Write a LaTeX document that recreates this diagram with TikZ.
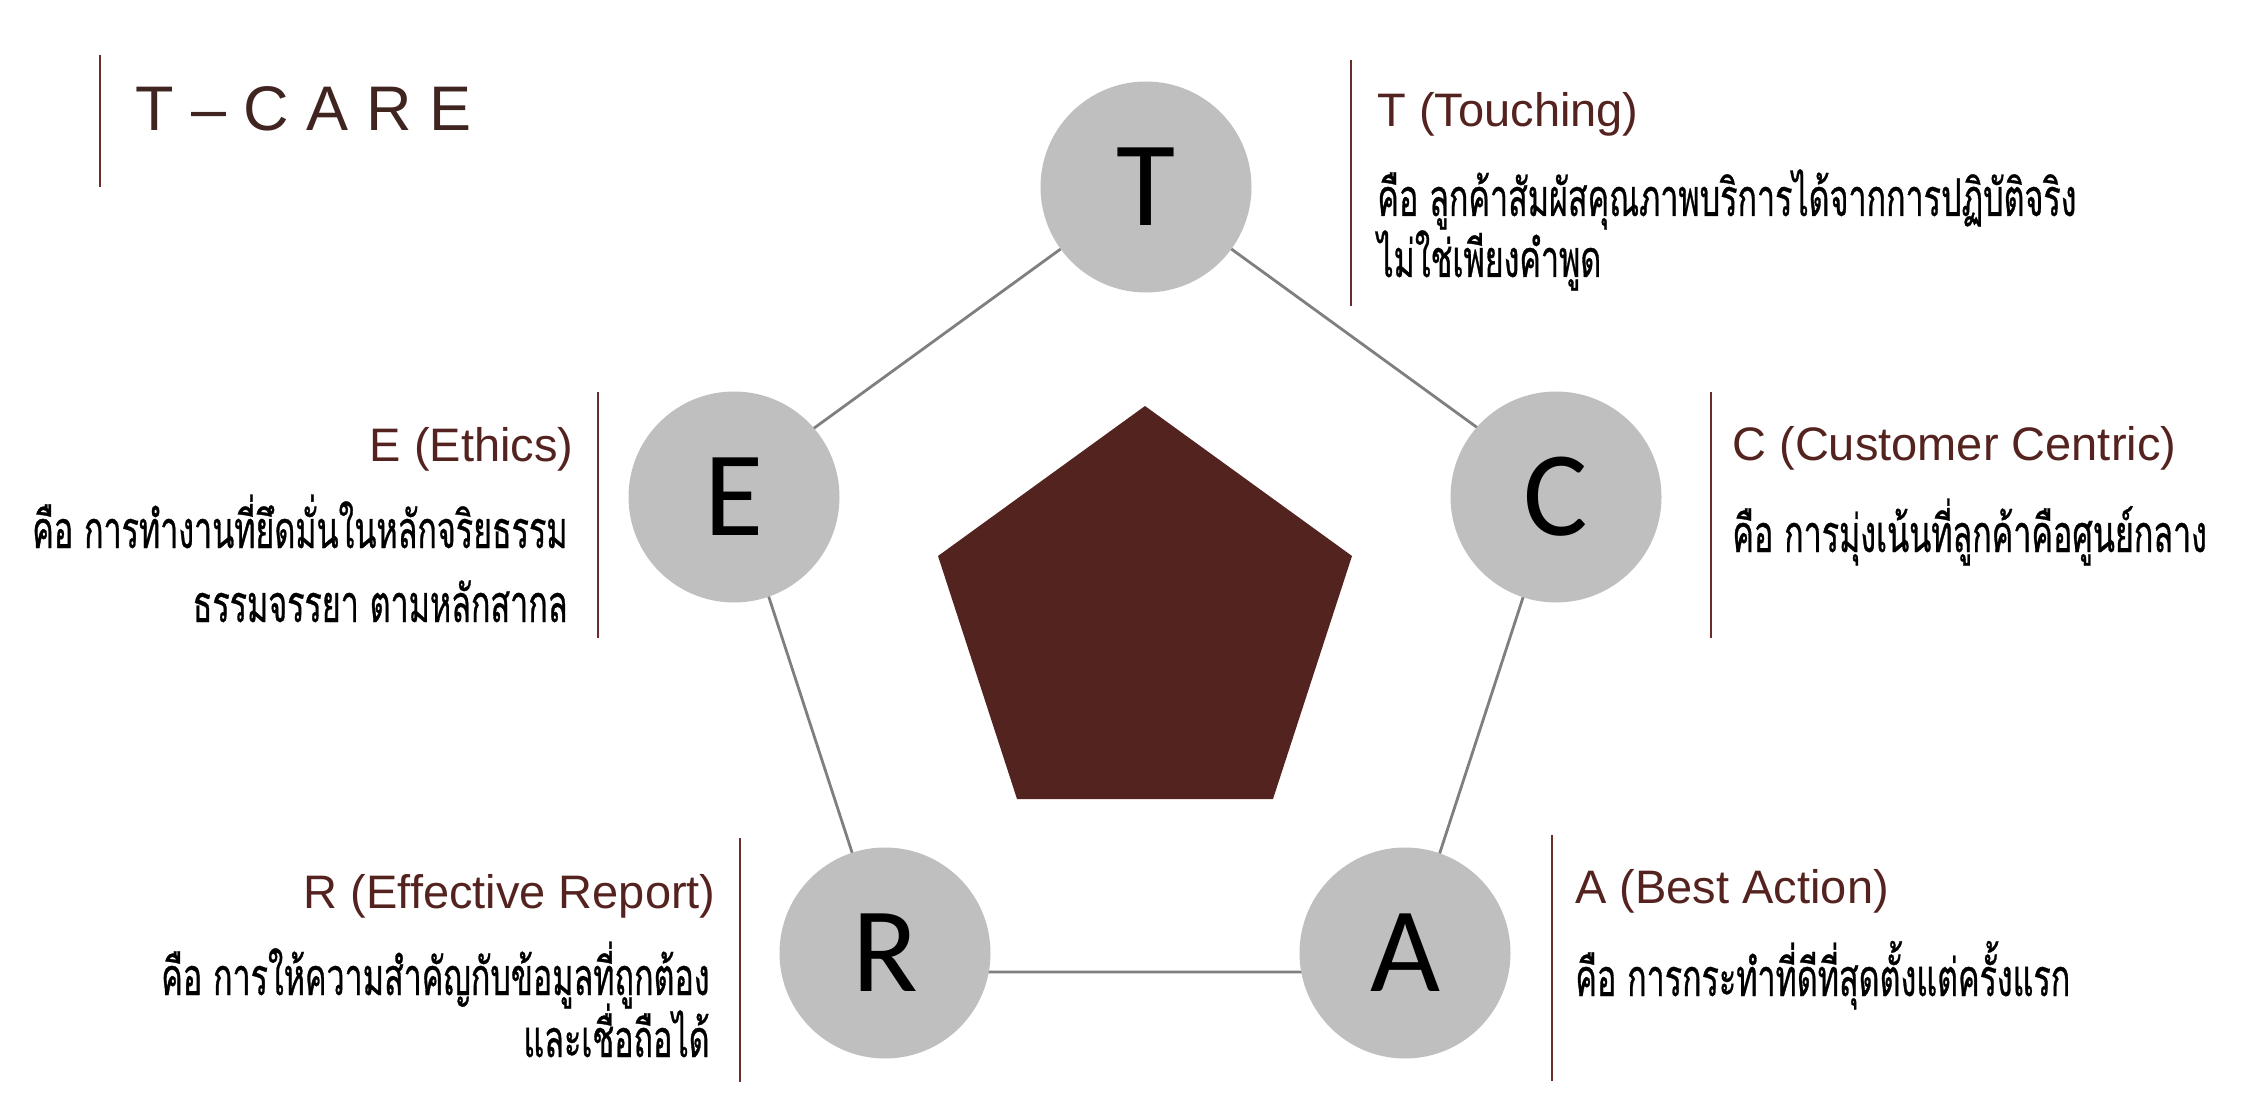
\documentclass[tikz,border=0pt]{standalone}
\usepackage{fontspec}
\setmainfont{Liberation Sans}
\newfontfamily\thaifont[Script=Thai,FakeStretch=0.62,FakeBold=0.6]{Loma}
\newfontfamily\circfont{Carlito}
\definecolor{penta}{HTML}{52231F}
\definecolor{headc}{HTML}{54231F}
\definecolor{titlec}{HTML}{402420}
\definecolor{barc}{HTML}{6B2D28}
\definecolor{circc}{HTML}{BFBFBF}
\definecolor{edgec}{HTML}{7F7F7F}
\tikzset{
  letter/.style={circle,fill=circc,minimum size=105.5pt,inner sep=0pt,
    font=\circfont\fontsize{60.5}{60}\selectfont,text=black},
  edge/.style={draw=edgec,line width=1.4pt},
  bar/.style={draw=barc,line width=1.3pt},
  head/.style={inner sep=0pt,text=headc,font=\fontsize{23.5}{28}\selectfont},
  thai/.style={inner sep=0pt,text=black,font=\thaifont\fontsize{26}{30}\selectfont},
}
\begin{document}
\begin{tikzpicture}[x=0.5pt,y=-0.5pt]
\useasboundingbox (0,0) rectangle (2254,1118);
% title
\coordinate (tb1) at (100,55); \coordinate (tb2) at (100,187);
\draw[bar] (tb1) -- (tb2);
\node[inner sep=0pt,anchor=base west,text=titlec,font=\fontsize{31.5}{36}\selectfont] (title) at (135,131) {T – C A R E};
% outer pentagon edges
\coordinate (vT) at (1146,187);
\coordinate (vC) at (1559,487);
\coordinate (vA) at (1401,972);
\coordinate (vR) at (891,972);
\coordinate (vE) at (733,487);
\draw[edge] (vT) -- (vC) -- (vA) -- (vR) -- (vE) -- cycle;
% inner pentagon
\fill[penta] (1145,406) -- (1352,556) -- (1273,799) -- (1017,799) -- (938,556) -- cycle;
% circles
\node[letter] (T) at (1146,187) {T};
\node[letter] (E) at (734,497) {E};
\node[letter] (C) at (1556,497) {C};
\node[letter] (R) at (885,953) {R};
\node[letter] (A) at (1405,953) {A};
% bars
\coordinate (bT1) at (1351,60);  \coordinate (bT2) at (1351,306);
\coordinate (bE1) at (598,392);  \coordinate (bE2) at (598,638);
\coordinate (bC1) at (1711,392); \coordinate (bC2) at (1711,638);
\coordinate (bR1) at (740,838);  \coordinate (bR2) at (740,1082);
\coordinate (bA1) at (1552,835); \coordinate (bA2) at (1552,1081);
\draw[bar] (bT1) -- (bT2);
\draw[bar] (bE1) -- (bE2);
\draw[bar] (bC1) -- (bC2);
\draw[bar] (bR1) -- (bR2);
\draw[bar] (bA1) -- (bA2);
% T text
\node[head,anchor=base west] (Th) at (1377,127) {T (Touching)};
\node[thai,anchor=base west] (Tt1) at (1377,216) {คือ ลูกค้าสัมผัสคุณภาพบริการได้จากการปฏิบัติจริง};
\node[thai,anchor=base west] (Tt2) at (1377,277) {ไม่ใช่เพียงคำพูด};
% E text
\node[head,anchor=base east] (Eh) at (574,461) {E (Ethics)};
\node[thai,anchor=base east] (Et1) at (568,548) {คือ การทำงานที่ยึดมั่นในหลักจริยธรรม};
\node[thai,anchor=base east] (Et2) at (568,622) {ธรรมจรรยา ตามหลักสากล};
% C text
\node[head,anchor=base west] (Ch) at (1732,460) {C (Customer Centric)};
\node[thai,anchor=base west] (Ct1) at (1732,552) {คือ การมุ่งเน้นที่ลูกค้าคือศูนย์กลาง};
% R text
\node[head,anchor=base east] (Rh) at (716,908) {R (Effective Report)};
\node[thai,anchor=base east] (Rt1) at (710,995) {คือ การให้ความสำคัญกับข้อมูลที่ถูกต้อง};
\node[thai,anchor=base east] (Rt2) at (710,1057) {และเชื่อถือได้};
% A text
\node[head,anchor=base west] (Ah) at (1575,903) {A (Best Action)};
\node[thai,anchor=base west] (At1) at (1575,996) {คือ การกระทำที่ดีที่สุดตั้งแต่ครั้งแรก};
\end{tikzpicture}
\end{document}
